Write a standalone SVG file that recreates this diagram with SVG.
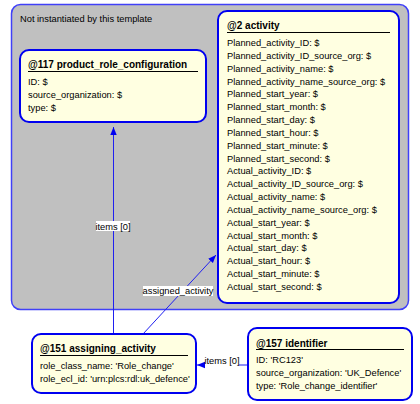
<svg xmlns="http://www.w3.org/2000/svg" width="420" height="404" viewBox="0 0 420 404">
<style>
text{font-family:"Liberation Sans",Arial,sans-serif;font-size:9.3px;fill:#000}
.t{font-weight:bold;font-size:10px}
.node{fill:#FFFFE1;stroke:#0000F0;stroke-width:2}
.ul{stroke:#000;stroke-width:1}
.conn{stroke:#2020F0;stroke-width:1;fill:none}
.lbl{fill:#fff}
</style>
<defs>
<marker id="ah" viewBox="0 0 10 10" refX="10" refY="5" markerWidth="8" markerHeight="8" markerUnits="userSpaceOnUse" orient="auto">
<path d="M0,1 L10,5 L0,9 z" fill="#0000F0"/>
</marker>
</defs>
<rect width="420" height="404" fill="#fff"/>
<g id="container">
<rect x="11.5" y="4.5" width="397" height="305" rx="9" fill="#C0C0C0" stroke="#4040F8" stroke-width="1.5"/>
<text x="20" y="22">Not instantiated by this template</text>
</g>
<g id="connectors">
<line class="conn" x1="113.5" y1="334" x2="113.5" y2="127" marker-end="url(#ah)"/>
<rect class="lbl" x="96" y="221" width="34" height="10"/>
<text x="113" y="229.5" text-anchor="middle">items [0]</text>
<line class="conn" x1="143" y1="334" x2="216" y2="255" marker-end="url(#ah)"/>
<rect class="lbl" x="143" y="286" width="70" height="10"/>
<text x="178" y="294" text-anchor="middle">assigned_activity</text>
<line class="conn" x1="248" y1="365" x2="197" y2="365" marker-end="url(#ah)"/>
<rect class="lbl" x="205" y="356" width="34" height="10"/>
<text x="222" y="364" text-anchor="middle">items [0]</text>
</g>
<g id="n117">
<rect class="node" x="20" y="50" width="186" height="72" rx="9"/>
<text class="t" x="28" y="68">@117 product_role_configuration</text>
<line class="ul" x1="28" y1="71.5" x2="198" y2="71.5"/>
<text x="28" y="84.5">ID: $</text>
<text x="28" y="98">source_organization: $</text>
<text x="28" y="111">type: $</text>
</g>
<g id="n2">
<rect class="node" x="218" y="11" width="181" height="292" rx="9"/>
<text class="t" x="227" y="29">@2 activity</text>
<line class="ul" x1="227" y1="32.5" x2="390" y2="32.5"/>
<text x="227" y="46">Planned_activity_ID: $</text>
<text x="227" y="58.8">Planned_activity_ID_source_org: $</text>
<text x="227" y="71.7">Planned_activity_name: $</text>
<text x="227" y="84.5">Planned_activity_name_source_org: $</text>
<text x="227" y="97.4">Planned_start_year: $</text>
<text x="227" y="110.2">Planned_start_month: $</text>
<text x="227" y="123">Planned_start_day: $</text>
<text x="227" y="135.9">Planned_start_hour: $</text>
<text x="227" y="148.7">Planned_start_minute: $</text>
<text x="227" y="161.6">Planned_start_second: $</text>
<text x="227" y="174.4">Actual_activity_ID: $</text>
<text x="227" y="187.2">Actual_activity_ID_source_org: $</text>
<text x="227" y="200.1">Actual_activity_name: $</text>
<text x="227" y="212.9">Actual_activity_name_source_org: $</text>
<text x="227" y="225.8">Actual_start_year: $</text>
<text x="227" y="238.6">Actual_start_month: $</text>
<text x="227" y="251.4">Actual_start_day: $</text>
<text x="227" y="264.3">Actual_start_hour: $</text>
<text x="227" y="277.1">Actual_start_minute: $</text>
<text x="227" y="290">Actual_start_second: $</text>
</g>
<g id="n151">
<rect class="node" x="32" y="334" width="164" height="59" rx="9"/>
<text class="t" x="40" y="352">@151 assigning_activity</text>
<line class="ul" x1="40" y1="355.5" x2="188" y2="355.5"/>
<text x="40" y="369">role_class_name: 'Role_change'</text>
<text x="40" y="381.5">role_ecl_id: 'urn:plcs:rdl:uk_defence'</text>
</g>
<g id="n157">
<rect class="node" x="248" y="328" width="164" height="72" rx="9"/>
<text class="t" x="256" y="346.5">@157 identifier</text>
<line class="ul" x1="256" y1="349.5" x2="404" y2="349.5"/>
<text x="256" y="363">ID: 'RC123'</text>
<text x="256" y="376">source_organization: 'UK_Defence'</text>
<text x="256" y="389">type: 'Role_change_identifier'</text>
</g>
</svg>
